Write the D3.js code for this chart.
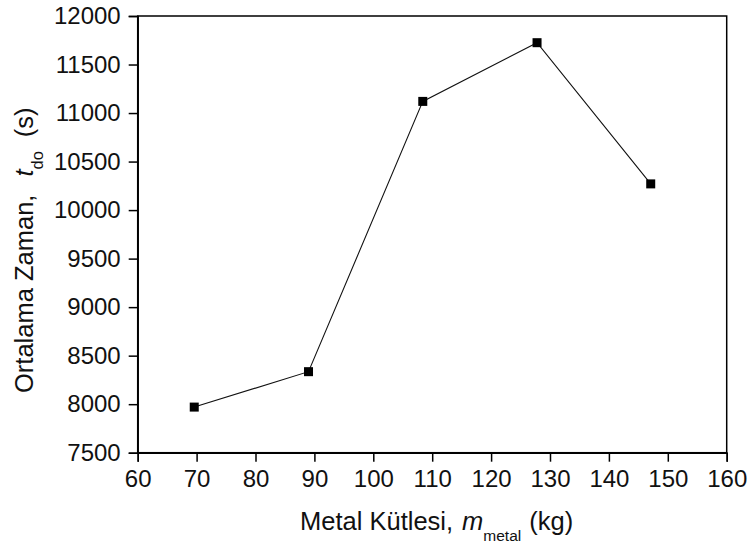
<!DOCTYPE html>
<html>
<head>
<meta charset="utf-8">
<script src="https://cdn.jsdelivr.net/npm/d3@7"></script>
<style>
  body { margin: 0; background: #fff; }
  svg { display: block; font-family: "Liberation Sans", Arial, sans-serif; }
</style>
</head>
<body>
<svg id="chart" width="751" height="547"></svg>
<script>
// metal mass (kg) vs average time t_do (s)
const massKg = [69.6, 89.0, 108.4, 127.8, 147.1];
const timeS = [7970, 8335, 11120, 11725, 10270];
const xTicks = [60, 70, 80, 90, 100, 110, 120, 130, 140, 150, 160];
const yTicks = [7500, 8000, 8500, 9000, 9500, 10000, 10500, 11000, 11500, 12000];

const W = 751, H = 547;
const margin = { top: 16, right: 24.3, bottom: 94.3, left: 137.7 };

const svg = d3.select("#chart");
const x = d3.scaleLinear().domain([60, 160]).range([margin.left, W - margin.right]);
const y = d3.scaleLinear().domain([7500, 12000]).range([H - margin.bottom, margin.top]);

// frame
svg.append("rect")
    .attr("x", margin.left)
    .attr("y", margin.top)
    .attr("width", x(160) - x(60))
    .attr("height", y(7500) - y(12000))
    .attr("fill", "none")
    .attr("stroke", "#000")
    .attr("stroke-width", 1.5);

const xAxis = svg.append("g")
    .attr("transform", `translate(0,${y(7500)})`)
    .call(d3.axisBottom(x).tickValues(xTicks).tickFormat(d3.format("d")).tickSize(9).tickPadding(8));
const yAxis = svg.append("g")
    .attr("transform", `translate(${x(60)},0)`)
    .call(d3.axisLeft(y).tickValues(yTicks).tickFormat(d3.format("d")).tickSize(9).tickPadding(8));

[xAxis, yAxis].forEach(g => {
    g.select(".domain").attr("stroke-width", 1.5);
    g.selectAll(".tick line").attr("stroke-width", 1.5);
    g.selectAll("text").attr("font-size", 24).attr("fill", "#111")
        .style("font-family", "Liberation Sans, Arial, sans-serif");
});

// data line
const pts = massKg.map((m, i) => [m, timeS[i]]);
svg.append("path")
    .datum(pts)
    .attr("fill", "none")
    .attr("stroke", "#111")
    .attr("stroke-width", 1.1)
    .attr("d", d3.line().x(d => x(d[0])).y(d => y(d[1])));

const ms = 9;
svg.selectAll("rect.pt")
    .data(pts)
    .enter()
    .append("rect")
    .attr("class", "pt")
    .attr("x", d => x(d[0]) - ms / 2)
    .attr("y", d => y(d[1]) - ms / 2)
    .attr("width", ms)
    .attr("height", ms)
    .attr("fill", "#000");

// x title
const xt = svg.append("text")
    .attr("x", 300)
    .attr("y", 530)
    .attr("font-size", 25.5)
    .attr("fill", "#111");
xt.append("tspan").text("Metal Kütlesi,");
xt.append("tspan").attr("dx", 9).attr("font-style", "italic").text("m");
xt.append("tspan").attr("font-size", 15.5).attr("dy", 11).text("metal");
xt.append("tspan").attr("dy", -11).attr("dx", 8).text("(kg)");

// y title (rotated)
const yt = svg.append("text")
    .attr("transform", "translate(33,393) rotate(-90)")
    .attr("font-size", 25.5)
    .attr("fill", "#111");
yt.append("tspan").text("Ortalama Zaman,");
yt.append("tspan").attr("dx", 18).attr("font-style", "italic").text("t");
yt.append("tspan").attr("font-size", 16.5).attr("dy", 10).text("do");
yt.append("tspan").attr("dy", -10).attr("dx", 14).text("(s)");
</script>
</body>
</html>
